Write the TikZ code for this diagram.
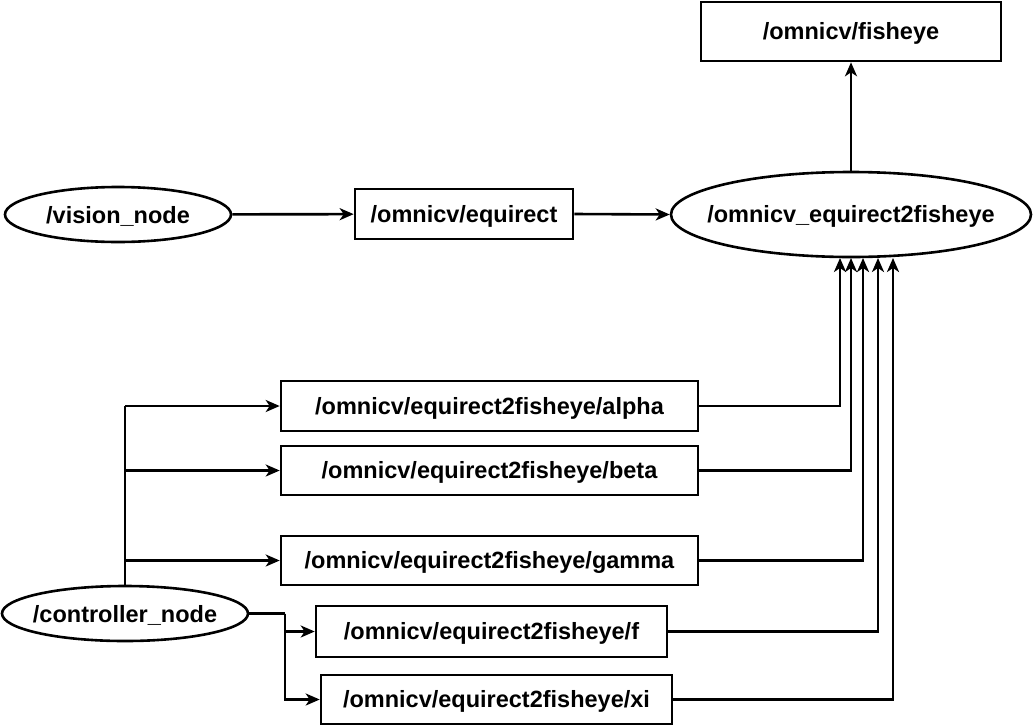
\documentclass[tikz,border=0pt]{standalone}
\usepackage{fontspec}
\setmainfont{Liberation Sans}
\usetikzlibrary{shapes.geometric,arrows.meta}
\begin{document}
\begin{tikzpicture}[x=1pt,y=-1pt,
  every node/.style={font=\fontsize{23.5}{27}\selectfont\bfseries, inner sep=0pt},
  txt/.style={yshift=-2pt},
  box/.style={draw, line width=2.6pt, rectangle},
  oval/.style={draw, line width=2.6pt, ellipse},
  conn/.style={line width=2.6pt, -{Stealth[length=14pt,width=12pt,inset=4pt]}}]
\useasboundingbox (0,0) rectangle (1033,726);
\node[box, minimum width=300pt, minimum height=59pt] (fish) at (851,31.5) {};
\node[txt] (fisht) at (fish) {/omnicv/fisheye};
\node[oval, minimum width=226pt, minimum height=55pt] (vision) at (118,214.5) {};
\node[txt] (visiont) at (vision) {/vision\_node};
\node[box, minimum width=218pt, minimum height=50pt] (equi) at (464,214) {};
\node[txt] (equit) at (equi) {/omnicv/equirect};
\node[oval, minimum width=360pt, minimum height=85pt] (e2f) at (851,214.5) {};
\node[txt] (e2ft) at (e2f) {/omnicv\_equirect2fisheye};
\node[box, minimum width=417pt, minimum height=50pt] (alpha) at (489.5,406) {};
\node[txt] (alphat) at (alpha) {/omnicv/equirect2fisheye/alpha};
\node[box, minimum width=417pt, minimum height=49pt] (beta) at (489.5,470.5) {};
\node[txt] (betat) at (beta) {/omnicv/equirect2fisheye/beta};
\node[box, minimum width=417pt, minimum height=49pt] (gamma) at (489.5,560.5) {};
\node[txt] (gammat) at (gamma) {/omnicv/equirect2fisheye/gamma};
\node[box, minimum width=351pt, minimum height=51pt] (f) at (491.5,631.5) {};
\node[txt] (ft) at (f) {/omnicv/equirect2fisheye/f};
\node[box, minimum width=351pt, minimum height=49pt] (xi) at (496.5,699.5) {};
\node[txt] (xit) at (xi) {/omnicv/equirect2fisheye/xi};
\node[oval, minimum width=246pt, minimum height=55pt] (ctrl) at (125,613.5) {};
\node[txt] (ctrlt) at (ctrl) {/controller\_node};

\draw[conn] (vision) -- (equi);
\draw[conn] (equi.east) -- (e2f.west);
\draw[conn] (e2f.north) -- (fish.south);

\coordinate (ea) at (840,258);
\coordinate (eb) at (851,258);
\coordinate (eg) at (863,258);
\coordinate (ef) at (878,258);
\coordinate (ex) at (893,258);
\draw[conn] (alpha.east) -| (ea);
\draw[conn] (beta.east) -| (eb);
\draw[conn] (gamma.east) -| (eg);
\draw[conn] (f.east) -| (ef);
\draw[conn] (xi.east) -| (ex);

\coordinate (cv) at (125,406);
\draw[line width=2.6pt] (ctrl.north) -- (cv);
\draw[conn] (cv) -- (alpha.west);
\draw[conn] (125,470.5) -- (beta.west);
\draw[conn] (125,560.5) -- (gamma.west);
\coordinate (cj) at (285,613.5);
\draw[line width=2.6pt] (ctrl.east) -- (cj);
\draw[conn] (cj) |- (f.west);
\draw[conn] (cj) |- (xi.west);
\end{tikzpicture}
\end{document}
